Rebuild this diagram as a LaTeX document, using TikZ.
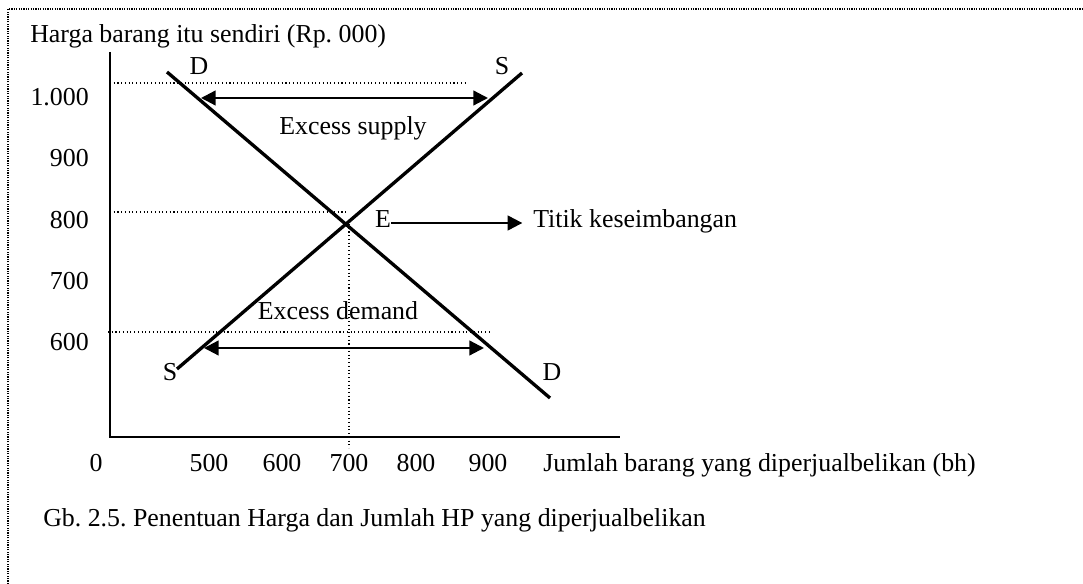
\documentclass[tikz,border=0pt]{standalone}
\usepackage{fontspec}
\setmainfont{Liberation Serif}
\usetikzlibrary{arrows.meta}
\frenchspacing
\begin{document}
\begin{tikzpicture}[x=0.75pt,y=-0.75pt,
  txt/.style={font=\fontsize{19.4}{23}\selectfont\frenchspacing, inner sep=0pt},
  axisline/.style={line width=1.2pt},
  curve/.style={line width=2.5pt},
  guide/.style={line width=0.8pt, dotted},
  border/.style={line width=0.9pt, dash pattern=on 0.9pt off 0.9pt},
  dblarrow/.style={line width=1.7pt, {Triangle[length=11pt,width=11pt]}-{Triangle[length=11pt,width=11pt]}},
  onearrow/.style={line width=1.7pt, -{Triangle[length=11pt,width=11pt]}}]
\useasboundingbox (0,0) rectangle (1083,584);
% border
\coordinate (b1) at (8,584);
\coordinate (b2) at (8,9);
\coordinate (b3) at (1083,9);
\draw[border] (b1) -- (b2) -- (b3);
% title
\node[txt, anchor=base west] (title) at (30,43) {Harga barang itu sendiri (Rp. 000)};
% axes
\coordinate (ytop) at (110,52);
\coordinate (orig) at (110,437);
\coordinate (xend) at (620,437);
\draw[axisline] (ytop) -- (orig) -- (xend);
% y labels
\node[txt, anchor=base east] (y1000) at (89,106) {1.000};
\node[txt, anchor=base east] (y900) at (89,167) {900};
\node[txt, anchor=base east] (y800) at (89,229) {800};
\node[txt, anchor=base east] (y700) at (89,290) {700};
\node[txt, anchor=base east] (y600) at (89,351) {600};
% x labels
\node[txt, anchor=base] (x0) at (96,472) {0};
\node[txt, anchor=base] (x500) at (209,472) {500};
\node[txt, anchor=base] (x600) at (282,472) {600};
\node[txt, anchor=base] (x700) at (349,472) {700};
\node[txt, anchor=base] (x800) at (416,472) {800};
\node[txt, anchor=base] (x900) at (488,472) {900};
\node[txt, anchor=base west] (xlab) at (543,472) {Jumlah barang yang diperjualbelikan (bh)};
% guides
\coordinate (g1a) at (110,83);  \coordinate (g1b) at (466,83);
\coordinate (g2a) at (110,212); \coordinate (g2b) at (346,212);
\coordinate (g3a) at (108,332); \coordinate (g3b) at (489,332);
\coordinate (g4a) at (349,224); \coordinate (g4b) at (349,448);
\draw[guide] (g1a) -- (g1b);
\draw[guide] (g2a) -- (g2b);
\draw[guide] (g3a) -- (g3b);
\draw[guide] (g4a) -- (g4b);
% curves
\coordinate (dtop) at (167,72);
\coordinate (dbot) at (550,398);
\coordinate (sbot) at (177,369);
\coordinate (stop) at (522,73);
\draw[curve] (dtop) -- (dbot);
\draw[curve] (sbot) -- (stop);
% curve labels
\node[txt, anchor=base] (Dt) at (199,75) {D};
\node[txt, anchor=base] (St) at (502,75) {S};
\node[txt, anchor=base] (Sb) at (170,381) {S};
\node[txt, anchor=base] (Db) at (552,381) {D};
% excess arrows
\coordinate (a1l) at (201,98);  \coordinate (a1r) at (488,98);
\coordinate (a2l) at (204,348); \coordinate (a2r) at (484,348);
\draw[dblarrow] (a1l) -- (a1r);
\draw[dblarrow] (a2l) -- (a2r);
\node[txt, anchor=base] (exs) at (353,135) {Excess supply};
\node[txt, anchor=base] (exd) at (338,320) {Excess demand};
% equilibrium
\node[txt, anchor=base] (E) at (383,228) {E};
\node[txt, anchor=base west] (titik) at (533,228) {Titik keseimbangan};
\draw[onearrow] (E.east |- 0,223) -- ([xshift=-8]titik.west |- 0,223);
% caption
\node[txt, anchor=base west] (cap) at (43,527) {Gb. 2.5. Penentuan Harga dan Jumlah HP yang diperjualbelikan};
\end{tikzpicture}
\end{document}
